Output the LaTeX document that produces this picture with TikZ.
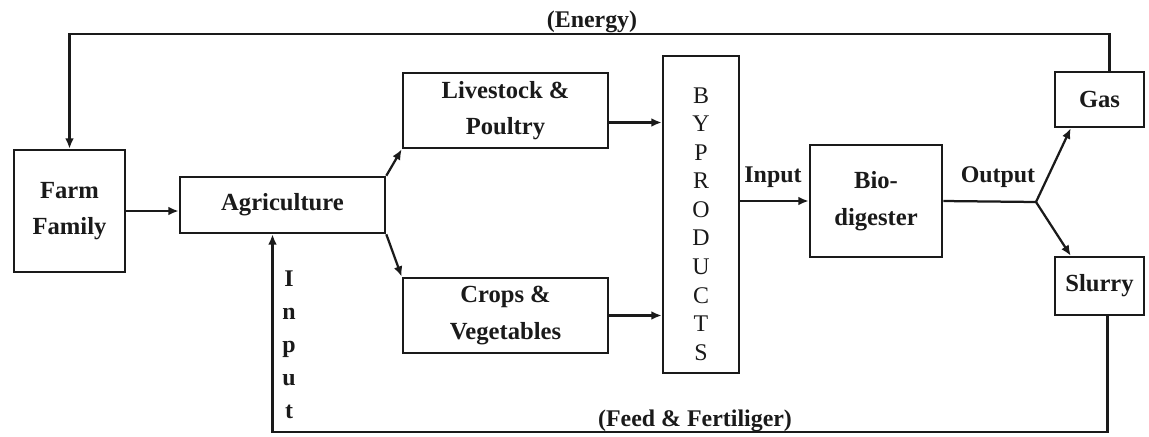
\documentclass[tikz,border=0pt]{standalone}
\usepackage{fontspec}
\setmainfont{Liberation Serif}
\usetikzlibrary{arrows.meta}
\definecolor{cink}{HTML}{1A1A1A}
\tikzset{>={Latex[length=2.6mm,width=2.2mm]},
  blk/.style={draw=cink,line width=1.8pt,inner sep=0pt,align=center,text=cink,
    font=\fontsize{17.5}{26}\selectfont\bfseries},
  flow/.style={->,draw=cink,line width=1.6pt},
  wire/.style={draw=cink,line width=1.6pt},
  flab/.style={font=\fontsize{17}{20}\selectfont\bfseries,text=cink,inner sep=1pt},
}

\begin{document}
\begin{tikzpicture}[x=0.025cm,y=-0.025cm]
  \useasboundingbox (0,0) rectangle (1149,436);
  % boxes of the farm cycle
  \node[blk,minimum width=2.775cm,minimum height=3.05cm] (farm) at (69.5,211) {Farm\\Family};
  \node[blk,minimum width=5.125cm,minimum height=1.4cm] (agri) at (282.5,205) {Agriculture};
  \node[blk,minimum width=5.125cm,minimum height=1.875cm] (live) at (505.5,110.5) {Livestock \&\\Poultry};
  \node[blk,minimum width=5.125cm,minimum height=1.875cm] (crops) at (505.5,315.5) {Crops \&\\Vegetables};
  \node[blk,minimum width=1.9cm,minimum height=7.925cm] (byp) at (701,214.5) {};
  \node[align=center,text=cink,font=\fontsize{17}{20.3}\selectfont] (byptxt) at (701,224) {B\\Y\\P\\R\\O\\D\\U\\C\\T\\S};
  \node[blk,minimum width=3.3cm,minimum height=2.8cm] (bio) at (876,201) {Bio-\\digester};
  \node[blk,minimum width=2.225cm,minimum height=1.375cm] (gas) at (1099.5,99.5) {Gas};
  \node[blk,minimum width=2.225cm,minimum height=1.45cm] (slurry) at (1099.5,286) {Slurry};

  % labels on the connectors
  \node[flab] (energy) at (592,22) {(Energy)};
  \node[flab] (inlab) at (773,177) {Input};
  \node[flab] (outlab) at (998,177) {Output};
  \node[flab] (feed) at (695,421) {(Feed \& Fertiliger)};
  \node[flab,align=center,font=\fontsize{17}{23.5}\selectfont\bfseries] (vin) at (289,345) {I\\n\\p\\u\\t};

  % connectors
  \draw[flow] ([xshift=0.25cm]gas.north) -- ++(0,-37) -| (farm.north);
  \draw[flow] (farm.east) -- (farm.east -| agri.west);
  \draw[flow] (agri.north east) -- (live.south west);
  \draw[flow] (agri.south east) -- (crops.north west);
  \coordinate (lvout) at ([yshift=-0.3cm]live.east);
  \draw[flow] (lvout) -- (lvout -| byp.west);
  \draw[flow] (crops.east) -- (crops.east -| byp.west);
  \draw[flow] (byp.east |- bio.west) -- (bio.west);
  \coordinate (split) at (1036,202);
  \draw[wire] (bio.east) -- (split);
  \draw[flow] (split) -- ([xshift=0.425cm]gas.south west);
  \draw[flow] (split) -- ([xshift=0.425cm]slurry.north west);
  \draw[flow] ([xshift=0.2cm]slurry.south) -- ++(0,116) -| ([xshift=-0.25cm]agri.south);
\end{tikzpicture}
\end{document}
